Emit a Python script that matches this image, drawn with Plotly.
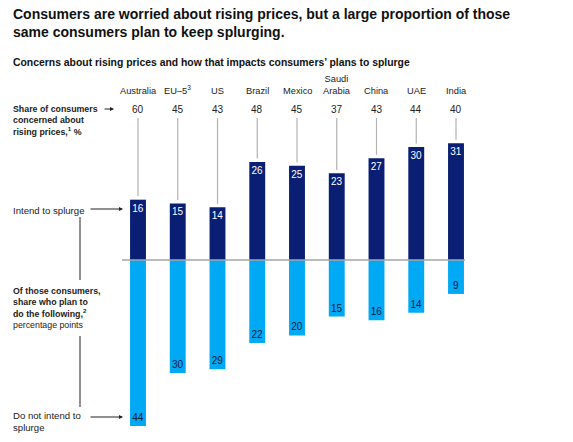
import plotly.graph_objects as go

countries = ["Australia", "EU-5", "US", "Brazil", "Mexico", "Saudi Arabia", "China", "UAE", "India"]
country_labels = ["Australia", "EU\u20135<sup>3</sup>", "US", "Brazil", "Mexico", "Saudi<br>Arabia", "China", "UAE", "India"]
concerned = [60, 45, 43, 48, 45, 37, 43, 44, 40]
intend = [16, 15, 14, 26, 25, 23, 27, 30, 31]
not_intend = [44, 30, 29, 22, 20, 15, 16, 14, 9]

W, H = 573, 442
OFF = 8  # page body margin
FW, FH = W - OFF, H - OFF
NAVY = "#0a1f73"
SKY = "#00a9f4"
FONT = "Liberation Sans, Arial, sans-serif"

# screen pixel -> paper helpers
def px(x):
    return (x - OFF) / FW

def py(y):
    return 1 - (y - OFF) / FH

# y scale: zero at 260px, ~3.77 px per unit
y_top = (260 - OFF) / 3.77
y_bot = -(H - 260) / 3.77
row_y = (260 - 118) / 3.77

fig = go.Figure()
fig.add_trace(go.Bar(
    x=countries, y=intend, width=0.4, marker=dict(color=NAVY, line_width=0),
    text=[str(v) for v in intend], textposition="inside", insidetextanchor="end", textangle=0,
    textfont=dict(color="white", size=10, family=FONT), constraintext="none",
    hoverinfo="skip",
))
fig.add_trace(go.Bar(
    x=countries, y=[-v for v in not_intend], width=0.4, marker=dict(color=SKY, line_width=0),
    text=[str(v) for v in not_intend], textposition="inside", insidetextanchor="end", textangle=0,
    textfont=dict(color="#0b1a3a", size=10, family=FONT), constraintext="none",
    hoverinfo="skip",
))

shapes = []
annotations = []

# zero line
shapes.append(dict(type="line", xref="paper", yref="y", x0=px(122), x1=px(465), y0=0, y1=0,
                   line=dict(color="#a6a6a6", width=1.5), layer="above"))

for i, c in enumerate(countries):
    # connector from concern value down to bar
    shapes.append(dict(type="line", xref="x", yref="y", x0=i, x1=i,
                       y0=row_y, y1=intend[i] + 0.9,
                       line=dict(color="#b3b3b3", width=1.2)))
    annotations.append(dict(x=i, xref="x", y=py(109), yref="paper", text=str(concerned[i]),
                            showarrow=False, font=dict(size=10, color="#222", family=FONT),
                            yanchor="middle"))
    annotations.append(dict(x=i, xref="x", y=py(98), yref="paper", text=country_labels[i],
                            showarrow=False, font=dict(size=9.3, color="#222", family=FONT),
                            yanchor="bottom"))

# title (two lines) / subtitle
for line, yy in [("Consumers are worried about rising prices, but a large proportion of those", 14),
                 ("same consumers plan to keep splurging.", 32)]:
    annotations.append(dict(x=px(11), y=py(yy), xref="paper", yref="paper", xanchor="left",
                            yanchor="middle", showarrow=False, text="<b>" + line + "</b>",
                            font=dict(size=14, color="#111", family=FONT)))
annotations.append(dict(x=px(11), y=py(63), xref="paper", yref="paper", xanchor="left", yanchor="middle",
                        showarrow=False,
                        text="<b>Concerns about rising prices and how that impacts consumers\u2019 plans to splurge</b>",
                        font=dict(size=10.4, color="#111", family=FONT)))

# left side labels
annotations.append(dict(x=px(11), y=py(102), xref="paper", yref="paper", xanchor="left", yanchor="top",
                        align="left", showarrow=False,
                        text="<b>Share of consumers<br>concerned about<br>rising prices,<sup>1</sup> %</b>",
                        font=dict(size=8.8, color="#222", family=FONT)))
annotations.append(dict(x=px(11), y=py(210), xref="paper", yref="paper", xanchor="left", yanchor="middle",
                        showarrow=False, text="Intend to splurge",
                        font=dict(size=9.6, color="#222", family=FONT)))
annotations.append(dict(x=px(11), y=py(284), xref="paper", yref="paper", xanchor="left", yanchor="top",
                        align="left", showarrow=False,
                        text="<b>Of those consumers,<br>share who plan to<br>do the following,<sup>2</sup></b><br>percentage points",
                        font=dict(size=8.8, color="#222", family=FONT)))
annotations.append(dict(x=px(11), y=py(408), xref="paper", yref="paper", xanchor="left", yanchor="top",
                        align="left", showarrow=False, text="Do not intend to<br>splurge",
                        font=dict(size=9.6, color="#222", family=FONT)))

# arrows
for (x0, x1, yy) in [(103, 114, 109), (89, 123, 209), (89, 123, 417)]:
    annotations.append(dict(x=px(x1), y=py(yy), ax=-(x1 - x0), ay=0, xref="paper", yref="paper",
                            axref="pixel", ayref="pixel", text="", showarrow=True,
                            arrowhead=2, arrowsize=0.8, arrowwidth=1, arrowcolor="#222"))

# vertical bracket lines
for (y0, y1) in [(217, 280), (336, 407)]:
    shapes.append(dict(type="line", xref="paper", yref="paper", x0=px(80), x1=px(80),
                       y0=py(y0), y1=py(y1), line=dict(color="#222", width=1)))

fig.update_layout(
    width=FW, height=FH,
    margin=dict(l=0, r=0, t=0, b=0),
    barmode="overlay",
    showlegend=False,
    plot_bgcolor="white", paper_bgcolor="white",
    xaxis=dict(range=[-(138 - OFF) / 39.75, (W - 138) / 39.75], visible=False, fixedrange=True),
    yaxis=dict(range=[y_bot, y_top], visible=False, fixedrange=True),
    shapes=shapes,
    annotations=annotations,
    uniformtext=dict(minsize=9, mode="show"),
)

fig.write_html("out.html")
